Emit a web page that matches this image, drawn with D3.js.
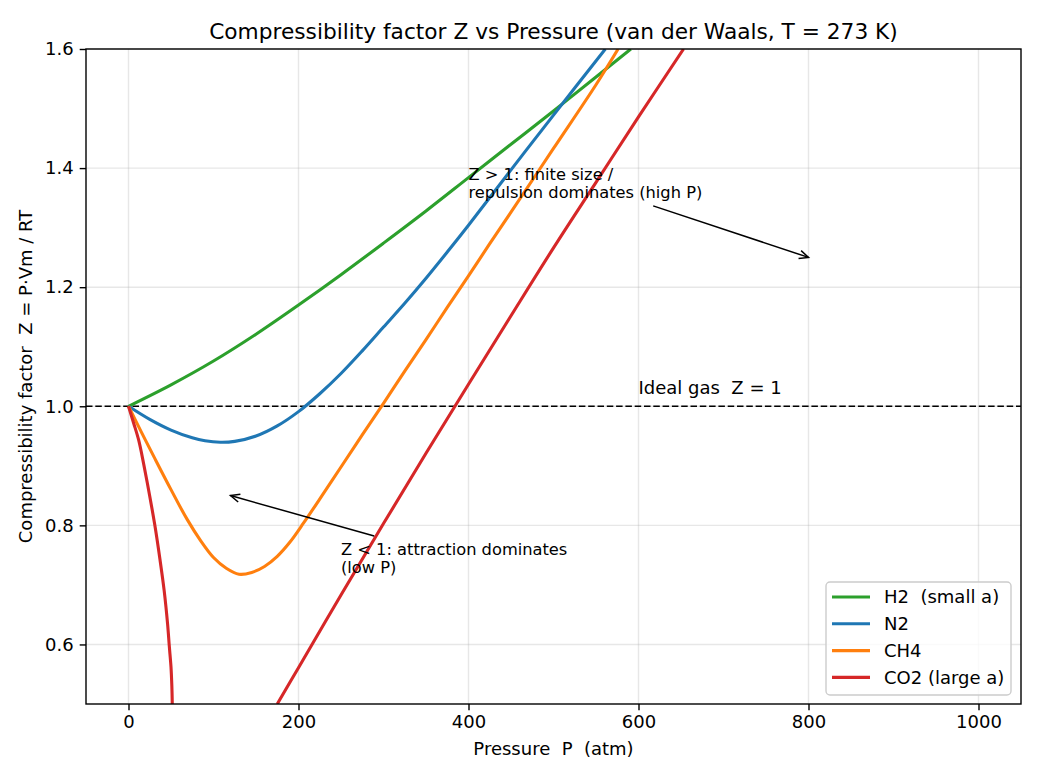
<!DOCTYPE html>
<html>
<head>
<meta charset="utf-8">
<script src="https://cdn.jsdelivr.net/npm/d3@7"></script>
<style>
  body { margin: 0; background: #fff; }
  svg text { font-family: "DejaVu Sans", sans-serif; }
</style>
</head>
<body>
<div id="chart"></div>
<script>
var WIDTH = 1040
var HEIGHT = 780

// values
var pH2 = [0, 50, 100, 150, 200, 250, 300, 350, 400, 450, 500, 550, 591];
var zH2 = [1.000, 1.036, 1.076, 1.121, 1.170, 1.221, 1.274, 1.328, 1.384, 1.440, 1.496, 1.553, 1.600];

var pN2 = [0, 25, 50, 75, 90, 108, 125, 150, 175, 200, 225, 250, 275, 300, 325, 350, 375, 400, 450, 500, 561];
var zN2 = [1.000, 0.978, 0.960, 0.947, 0.942, 0.9395, 0.941, 0.950, 0.967, 0.991, 1.021, 1.055, 1.093, 1.133, 1.173, 1.215, 1.259, 1.304, 1.397, 1.489, 1.600];

var pCH4 = [0, 15, 30, 50, 69, 85, 100, 115, 130, 145, 160, 175, 190, 206, 230, 250, 275, 300, 325, 350, 375, 400, 425, 450, 500, 550, 576];
var zCH4 = [1.000, 0.957, 0.915, 0.860, 0.810, 0.774, 0.746, 0.728, 0.718, 0.721, 0.731, 0.748, 0.772, 0.804, 0.855, 0.898, 0.952, 1.005, 1.059, 1.112, 1.166, 1.219, 1.273, 1.326, 1.433, 1.540, 1.600];

// CO2 leaves the visible range below Z = 0.5, so it is split in two pieces
var pCO2low = [0, 6, 12, 18, 25, 31, 37, 42, 46, 48, 50, 51, 51.5];
var zCO2low = [1.000, 0.972, 0.943, 0.902, 0.849, 0.800, 0.743, 0.690, 0.634, 0.597, 0.562, 0.530, 0.500];
var pCO2high = [175, 200, 250, 300, 350, 400, 450, 500, 550, 600, 653];
var zCO2high = [0.500, 0.561, 0.683, 0.803, 0.921, 1.037, 1.152, 1.266, 1.376, 1.486, 1.600];

var seriesNames = ['H2  (small a)', 'N2', 'CH4', 'CO2 (large a)'];
var seriesColors = ['#2ca02c', '#1f77b4', '#ff7f0e', '#d62728'];

var xTicks = [0, 200, 400, 600, 800, 1000];
var yTicks = [0.6, 0.8, 1.0, 1.2, 1.4, 1.6];

var margin = { left: 86, right: 1021, top: 49, bottom: 704 };

var xScale = d3.scaleLinear().domain([-50, 1050]).range([margin.left, margin.right]);
var yScale = d3.scaleLinear().domain([0.5, 1.6]).range([margin.bottom, margin.top]);

function zipPts(ps, zs) {
    return ps.map((p, i) => [p, zs[i]]);
}

var series = [
    { name: seriesNames[0], color: seriesColors[0], parts: [zipPts(pH2, zH2)] },
    { name: seriesNames[1], color: seriesColors[1], parts: [zipPts(pN2, zN2)] },
    { name: seriesNames[2], color: seriesColors[2], parts: [zipPts(pCH4, zCH4)] },
    { name: seriesNames[3], color: seriesColors[3], parts: [zipPts(pCO2low, zCO2low), zipPts(pCO2high, zCO2high)] }
];

const svg = d3.select('#chart').append('svg')
    .attr('width', WIDTH)
    .attr('height', HEIGHT);

svg.append('defs').append('clipPath')
    .attr('id', 'plotClip')
    .append('rect')
    .attr('x', margin.left)
    .attr('y', margin.top)
    .attr('width', margin.right - margin.left)
    .attr('height', margin.bottom - margin.top);

// grid
var grid = svg.append('g');
grid.selectAll('line.vgrid')
    .data(xTicks)
    .enter()
    .append('line')
    .attr('x1', d => xScale(d)).attr('x2', d => xScale(d))
    .attr('y1', margin.top).attr('y2', margin.bottom)
    .attr('stroke', '#b0b0b0').attr('stroke-opacity', 0.3).attr('stroke-width', 1.4);
grid.selectAll('line.hgrid')
    .data(yTicks)
    .enter()
    .append('line')
    .attr('x1', margin.left).attr('x2', margin.right)
    .attr('y1', d => yScale(d)).attr('y2', d => yScale(d))
    .attr('stroke', '#b0b0b0').attr('stroke-opacity', 0.3).attr('stroke-width', 1.4);

var plot = svg.append('g').attr('clip-path', 'url(#plotClip)');

// ideal gas reference
plot.append('line')
    .attr('x1', margin.left).attr('x2', margin.right)
    .attr('y1', yScale(1.0)).attr('y2', yScale(1.0))
    .attr('stroke', 'black')
    .attr('stroke-width', 1.6)
    .attr('stroke-dasharray', '6.5,2.8');

var line = d3.line()
    .x(d => xScale(d[0]))
    .y(d => yScale(d[1]))
    .curve(d3.curveCatmullRom.alpha(0.5));

series.forEach(s => {
    s.parts.forEach(part => {
        plot.append('path')
            .datum(part)
            .attr('d', line)
            .attr('fill', 'none')
            .attr('stroke', s.color)
            .attr('stroke-width', 3.1)
            .attr('stroke-linejoin', 'round');
    });
});

// axes
var xAxis = d3.axisBottom(xScale).tickValues(xTicks).tickSize(6.3).tickPadding(5).tickFormat(d3.format('d'));
var yAxis = d3.axisLeft(yScale).tickValues(yTicks).tickSize(6.3).tickPadding(6).tickFormat(d3.format('.1f'));

var gx = svg.append('g').attr('transform', 'translate(0,' + margin.bottom + ')').call(xAxis);
var gy = svg.append('g').attr('transform', 'translate(' + margin.left + ',0)').call(yAxis);
[gx, gy].forEach(g => {
    g.select('.domain').remove();
    g.selectAll('.tick line').attr('stroke', 'black').attr('stroke-width', 1.4);
    g.selectAll('.tick text').attr('fill', 'black').style('font-size', '18px').style('font-family', '"DejaVu Sans", sans-serif');
});

svg.append('rect')
    .attr('x', margin.left).attr('y', margin.top)
    .attr('width', margin.right - margin.left)
    .attr('height', margin.bottom - margin.top)
    .attr('fill', 'none')
    .attr('stroke', 'black')
    .attr('stroke-width', 1.4);

// titles
svg.append('text')
    .attr('x', (margin.left + margin.right) / 2)
    .attr('y', 39)
    .attr('text-anchor', 'middle')
    .style('font-size', '21.7px')
    .text('Compressibility factor Z vs Pressure (van der Waals, T = 273 K)');

svg.append('text')
    .attr('x', (margin.left + margin.right) / 2)
    .attr('y', 755)
    .attr('text-anchor', 'middle')
    .style('font-size', '18px')
    .style('white-space', 'pre')
    .text('Pressure  P  (atm)');

svg.append('text')
    .attr('transform', 'translate(32,' + ((margin.top + margin.bottom) / 2) + ') rotate(-90)')
    .attr('text-anchor', 'middle')
    .style('font-size', '18px')
    .style('white-space', 'pre')
    .text('Compressibility factor  Z = P·Vm / RT');

// ideal gas label
svg.append('text')
    .attr('x', xScale(600))
    .attr('y', yScale(1.02))
    .style('font-size', '18px')
    .style('white-space', 'pre')
    .text('Ideal gas  Z = 1');

// annotations
var notes = [
    { lines: ['Z > 1: finite size /', 'repulsion dominates (high P)'], at: [400, 1.35], target: [800, 1.25] },
    { lines: ['Z < 1: attraction dominates', '(low P)'], at: [250, 0.72], target: [120, 0.85] }
];

var arrows = svg.append('g');

notes.forEach(n => {
    var t = svg.append('text')
        .attr('x', xScale(n.at[0]))
        .attr('y', yScale(n.at[1]))
        .style('font-size', '16.25px');
    var lh = 18;
    n.lines.forEach((l, i) => {
        t.append('tspan')
            .attr('x', xScale(n.at[0]))
            .attr('dy', i === 0 ? -(n.lines.length - 1) * lh : lh)
            .text(l);
    });
    var bb = t.node().getBBox();
    var pad = 4;
    var x0 = bb.x - pad, x1 = bb.x + bb.width + pad, y0 = bb.y - pad, y1 = bb.y + bb.height + pad;
    var cx = bb.x + bb.width / 2, cy = bb.y + bb.height / 2;
    var tx = xScale(n.target[0]), ty = yScale(n.target[1]);
    var dx = tx - cx, dy = ty - cy;
    var ts = [];
    if (dx !== 0) ts.push(((dx > 0 ? x1 : x0) - cx) / dx);
    if (dy !== 0) ts.push(((dy > 0 ? y1 : y0) - cy) / dy);
    var tt = Math.min.apply(null, ts);
    var sx = cx + dx * tt, sy = cy + dy * tt;

    arrows.append('line')
        .attr('x1', sx).attr('y1', sy)
        .attr('x2', tx).attr('y2', ty)
        .attr('stroke', 'black').attr('stroke-width', 1.5);

    // open arrow head
    var ang = Math.atan2(ty - sy, tx - sx);
    var hl = 10, hw = 0.42;
    var p1 = [tx - hl * Math.cos(ang - hw), ty - hl * Math.sin(ang - hw)];
    var p2 = [tx - hl * Math.cos(ang + hw), ty - hl * Math.sin(ang + hw)];
    arrows.append('path')
        .attr('d', 'M' + p1 + 'L' + tx + ',' + ty + 'L' + p2)
        .attr('fill', 'none').attr('stroke', 'black').attr('stroke-width', 1.5);
});

// legend
var lg = svg.append('g').attr('transform', 'translate(826,582)');
lg.append('rect')
    .attr('width', 185).attr('height', 113)
    .attr('rx', 4).attr('ry', 4)
    .attr('fill', 'white').attr('fill-opacity', 0.8)
    .attr('stroke', '#cccccc').attr('stroke-width', 1.4);
seriesNames.forEach((name, i) => {
    var yy = 15 + i * 26.8;
    lg.append('line')
        .attr('x1', 6).attr('x2', 44)
        .attr('y1', yy).attr('y2', yy)
        .attr('stroke', seriesColors[i]).attr('stroke-width', 3.1);
    lg.append('text')
        .attr('x', 58).attr('y', yy)
        .attr('dy', '0.36em')
        .style('font-size', '18px')
        .style('white-space', 'pre')
        .text(name);
});
</script>
</body>
</html>
